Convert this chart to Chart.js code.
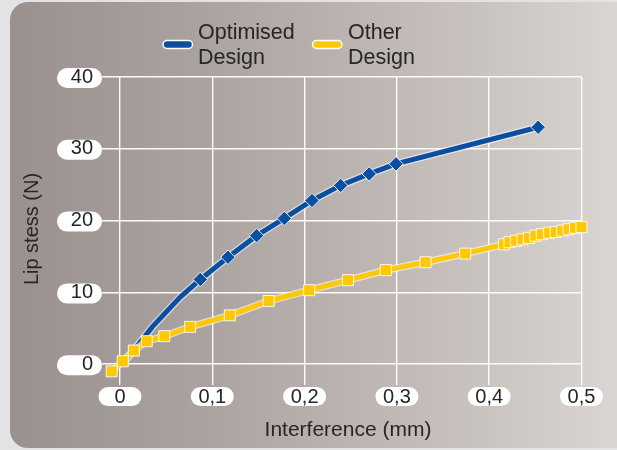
<!DOCTYPE html>
<html>
<head>
<meta charset="utf-8">
<script src="https://cdn.jsdelivr.net/npm/chart.js@4"></script>
<style>
  html, body { margin: 0; padding: 0; background: #e3e3e5; }
  #wrap { position: relative; width: 617px; height: 450px; overflow: hidden; }
  #panel { position: absolute; left: 10px; top: 2px; width: 625px; height: 446px;
    border-radius: 18px;
    background: linear-gradient(to right, #9a918e 0%, #aaa29e 30%, #c2bbb7 65%, #dcd8d5 100%); }
  canvas { position: absolute; left: 0; top: 0; }
</style>
</head>
<body>
<div id="wrap">
  <div id="panel"></div>
  <canvas id="c" width="617" height="450"></canvas>
</div>
<script>
// ---- data ----
const seriesNames = ['Optimised Design', 'Other Design'];
const xTicks = [0, 0.1, 0.2, 0.3, 0.4, 0.5];
const xTickLabels = ['0', '0,1', '0,2', '0,3', '0,4', '0,5'];
const yTicks = [0, 10, 20, 30, 40];
const yTickLabels = ['0', '10', '20', '30', '40'];

const optX = [0.003, 0.035, 0.065, 0.087, 0.117, 0.148, 0.178, 0.208, 0.239, 0.270, 0.299, 0.453];
const optY = [0.0, 5.2, 9.3, 11.8, 14.9, 17.9, 20.3, 22.8, 24.9, 26.5, 27.9, 33.0];
const optFirstMarker = 3;

const otherX = [-0.009, 0.003, 0.015, 0.029, 0.048, 0.076, 0.119, 0.161, 0.205, 0.247, 0.288, 0.331, 0.374,
  0.416, 0.422, 0.429, 0.436, 0.443, 0.450, 0.457, 0.465, 0.472, 0.479, 0.486, 0.493, 0.500];
const otherY = [-1.0, 0.4, 1.9, 3.2, 3.9, 5.2, 6.8, 8.8, 10.3, 11.7, 13.1, 14.2, 15.4,
  16.7, 17.0, 17.2, 17.4, 17.6, 17.9, 18.1, 18.3, 18.4, 18.6, 18.8, 19.0, 19.1];

const xTitle = 'Interference (mm)';
const yTitle = 'Lip stess (N)';

// ---- styles ----
const BLUE = '#0b4fa2';
const YELLOW = '#ffc805';
const TEXT = '#262626';
const FONT = 'Liberation Sans, Arial, sans-serif';

const pts = (xs, ys) => xs.map((x, i) => ({ x: x, y: ys[i] }));
const optData = pts(optX, optY);
const otherData = pts(otherX, otherY);

function roundRect(ctx, x, y, w, h, r) {
  ctx.beginPath();
  ctx.moveTo(x + r, y);
  ctx.lineTo(x + w - r, y);
  ctx.arc(x + w - r, y + r, r, -Math.PI / 2, 0);
  ctx.lineTo(x + w, y + h - r);
  ctx.arc(x + w - r, y + h - r, r, 0, Math.PI / 2);
  ctx.lineTo(x + r, y + h);
  ctx.arc(x + r, y + h - r, r, Math.PI / 2, Math.PI);
  ctx.lineTo(x, y + r);
  ctx.arc(x + r, y + r, r, Math.PI, Math.PI * 1.5);
  ctx.closePath();
}

const decor = {
  id: 'decor',
  beforeDraw(chart) {
    const ctx = chart.ctx;
    const xs = chart.scales.x, ys = chart.scales.y;
    ctx.save();
    ctx.fillStyle = '#ffffff';
    yTicks.forEach(v => {
      const py = ys.getPixelForValue(v);
      roundRect(ctx, 57, py - 9, 45, 20, 10);
      ctx.fill();
    });
    xTicks.forEach(v => {
      const px = xs.getPixelForValue(v);
      roundRect(ctx, px - 21.5, 387, 43, 19, 9.5);
      ctx.fill();
    });
    ctx.restore();
  },
  afterDraw(chart) {
    const ctx = chart.ctx;
    ctx.save();
    ctx.fillStyle = TEXT;
    ctx.font = '21px ' + FONT;
    ctx.textAlign = 'center';
    ctx.textBaseline = 'middle';
    ctx.fillText(xTitle, 348, 430);
    ctx.save();
    ctx.translate(32, 229);
    ctx.rotate(-Math.PI / 2);
    ctx.font = '20px ' + FONT;
    ctx.fillText(yTitle, 0, 0);
    ctx.restore();
    const items = [
      { color: BLUE, sx: 163, tx: 198, lines: ['Optimised', 'Design'] },
      { color: YELLOW, sx: 312.5, tx: 348, lines: ['Other', 'Design'] }
    ];
    items.forEach(it => {
      ctx.fillStyle = it.color;
      ctx.strokeStyle = '#ffffff';
      ctx.lineWidth = 1.5;
      roundRect(ctx, it.sx, 40.5, 29.5, 8, 4);
      ctx.fill();
      ctx.stroke();
      ctx.fillStyle = TEXT;
      ctx.font = '21.5px ' + FONT;
      ctx.textAlign = 'left';
      ctx.textBaseline = 'alphabetic';
      ctx.fillText(it.lines[0], it.tx, 38.5);
      ctx.fillText(it.lines[1], it.tx, 63.5);
    });
    ctx.restore();
  }
};

new Chart(document.getElementById('c'), {
  type: 'line',
  data: {
    datasets: [
      { label: seriesNames[1], data: otherData, borderColor: YELLOW, backgroundColor: YELLOW,
        borderWidth: 5, pointStyle: 'rect', pointRadius: 7.8, pointBorderColor: 'rgba(255,255,255,0.85)',
        pointBorderWidth: 1, tension: 0, clip: false, order: 1 },
      { label: '_halo2', data: otherData, borderColor: 'rgba(255,255,255,0.6)', borderWidth: 7.5,
        pointRadius: 0, tension: 0, clip: false, order: 2 },
      { label: seriesNames[0], data: optData, borderColor: BLUE, backgroundColor: BLUE,
        borderWidth: 5, pointStyle: 'rectRot',
        pointRadius: c => (c.dataIndex < optFirstMarker ? 0 : 7.2), pointBorderColor: 'rgba(255,255,255,0.85)',
        pointBorderWidth: 1, tension: 0, clip: false, order: 3 },
      { label: '_halo1', data: optData, borderColor: 'rgba(255,255,255,0.6)', borderWidth: 7.5,
        pointRadius: 0, tension: 0, clip: false, order: 4 }
    ]
  },
  options: {
    responsive: false,
    animation: false,
    events: [],
    layout: { padding: { top: 77, right: 35.5, left: 0, bottom: 0 } },
    plugins: { legend: { display: false }, tooltip: { enabled: false } },
    scales: {
      x: {
        type: 'linear', min: -0.0195, max: 0.5,
        afterBuildTicks: s => { s.ticks = xTicks.map(v => ({ value: v })); },
        afterFit: s => { s.height = 65; },
        grid: { color: 'rgba(255,255,255,0.95)', lineWidth: 1.4, drawTicks: false },
        border: { display: false },
        ticks: { color: TEXT, font: { family: FONT, size: 20 }, padding: 0, maxRotation: 0, autoSkip: false,
          callback: v => xTickLabels[xTicks.indexOf(v)] }
      },
      y: {
        type: 'linear', min: -2.9, max: 40,
        afterBuildTicks: s => { s.ticks = yTicks.map(v => ({ value: v })); },
        afterFit: s => { s.width = 102; },
        grid: { color: 'rgba(255,255,255,0.95)', lineWidth: 1.4, drawTicks: false },
        border: { display: false },
        ticks: { color: TEXT, font: { family: FONT, size: 20 }, padding: 9, autoSkip: false,
          callback: v => yTickLabels[yTicks.indexOf(v)] }
      }
    }
  },
  plugins: [decor]
});
</script>
</body>
</html>
